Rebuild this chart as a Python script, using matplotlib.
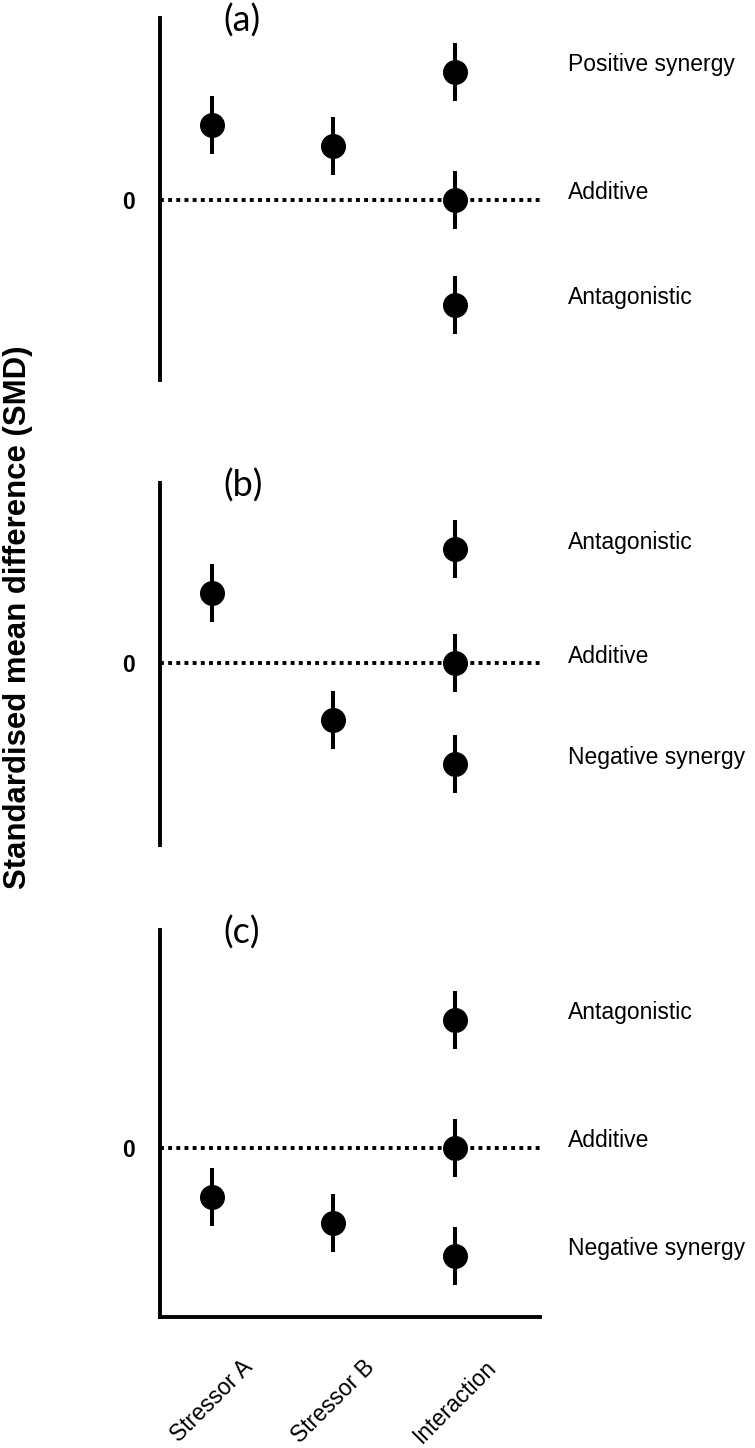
from matplotlib import pyplot as plt

# categories on the x axis
categories = ["Stressor A", "Stressor B", "Interaction"]
x_pos = [1, 2, 3]

# panel (a): single stressors positive
a_single = [0.75, 0.54]
a_inter = [1.28, 0.0, -1.05]
a_labels = ["Positive synergy", "Additive", "Antagonistic"]

# panel (b): opposing stressors
b_single = [0.70, -0.57]
b_inter = [1.14, 0.0, -1.01]
b_labels = ["Antagonistic", "Additive", "Negative synergy"]

# panel (c): single stressors negative
c_single = [-0.49, -0.75]
c_inter = [1.28, 0.0, -1.08]
c_labels = ["Antagonistic", "Additive", "Negative synergy"]

err = 0.29

panels = [
    ("(a)", a_single, a_inter, a_labels, (-1.80, 1.82), [0.212, 0.7376, 0.503, 0.250]),
    ("(b)", b_single, b_inter, b_labels, (-1.82, 1.80), [0.212, 0.4164, 0.503, 0.250]),
    ("(c)", c_single, c_inter, c_labels, (-1.69, 2.18), [0.212, 0.0905, 0.503, 0.2673]),
]

fig = plt.figure(figsize=(7.55, 14.48), dpi=100)

for i, (tag, single, inter, labels, ylim, pos) in enumerate(panels):
    ax = fig.add_axes(pos)
    ax.set_xlim(0.572, 3.70)
    ax.set_ylim(*ylim)

    # zero line
    ax.axhline(0, color="black", lw=2.8, linestyle=(0, (1, 1.1)), zorder=1)

    # single stressors
    ax.errorbar(x_pos[:2], single, yerr=err, fmt="o", color="black",
                ms=17, elinewidth=2.9, capsize=0, zorder=3)
    # interaction outcomes
    ax.errorbar([x_pos[2]] * 3, inter, yerr=err, fmt="o", color="black",
                ms=17, elinewidth=2.9, capsize=0, zorder=3)

    # outcome labels on the right
    for yv, lab in zip(inter, labels):
        ax.text(3.93, yv + 0.07, lab, fontsize=16.5, family="Liberation Sans",
                va="center", ha="left", clip_on=False)

    ax.text(1.09, ylim[1] - 0.03, tag, fontsize=26, family="Lato",
            va="center", ha="left", clip_on=False)

    for s in ["top", "right"]:
        ax.spines[s].set_visible(False)
    ax.spines["left"].set_linewidth(2.8)
    ax.spines["bottom"].set_linewidth(2.8)

    ax.set_yticks([0])
    ax.set_yticklabels(["0"], fontsize=16.5, fontweight="bold", family="Liberation Sans")
    ax.tick_params(axis="y", length=0, pad=18)

    if i < 2:
        ax.spines["bottom"].set_visible(False)
        ax.set_xticks([])
    else:
        ax.set_xticks(x_pos)
        ax.set_xticklabels(categories, rotation=45, ha="center", va="top",
                           fontsize=16.5, family="Liberation Sans")
        ax.tick_params(axis="x", length=0, pad=28)

fig.text(0.024, 0.574, "Standardised mean difference (SMD)", rotation=90,
         fontsize=22.4, fontweight="bold", family="Liberation Sans",
         va="center", ha="center")

plt.savefig("out.png", dpi=100)
